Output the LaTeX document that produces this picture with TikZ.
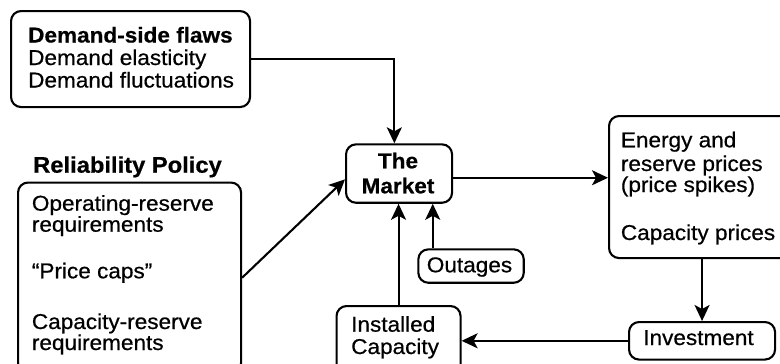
\documentclass[tikz,border=0pt]{standalone}
\usepackage{fontspec}
\setmainfont{Liberation Sans}[FakeStretch=1.05, FakeBold=0.6]
\usetikzlibrary{arrows.meta}
\tikzset{
  box/.style={draw, rounded corners=10pt, line width=2.1pt, inner sep=0pt, anchor=north west},
  txt/.style={inner sep=0pt, anchor=base west, font=\fontsize{21.5}{23}\selectfont},
  head/.style={txt, font=\fontsize{22.6}{24}\selectfont\bfseries},
  ctxt/.style={txt, anchor=base},
  arr/.style={line width=2.1pt, -{Stealth[length=16pt, width=15pt, inset=4pt]}}
}
\begin{document}
\begin{tikzpicture}[x=1pt, y=-1pt]
\useasboundingbox (0,0) rectangle (780,364);
\clip (0,0) rectangle (780,364);
\fill[white] (0,0) rectangle (780,364);

% boxes
\node[box, minimum width=239pt, minimum height=96pt] (dem) at (10,10) {};
\node[box, minimum width=223pt, minimum height=190.4pt] (rel) at (17,181.5) {};
\node[box, minimum width=106pt, minimum height=58.4pt] (mkt) at (345,143.3) {};
\node[box, minimum width=190pt, minimum height=142pt] (eng) at (608,115) {};
\node[box, minimum width=146pt, minimum height=37.5pt] (inv) at (628,321) {};
\node[box, minimum width=124pt, minimum height=80pt] (ins) at (335.5,305) {};
\node[box, minimum width=105.4pt, minimum height=33.4pt] (out) at (417.3,248.3) {};

% texts
\node[txt] (t1) at (28,42.5) {\bfseries Demand-side flaws};
\node[txt] (t2) at (28,65) {Demand elasticity};
\node[txt] (t3) at (28,87.5) {Demand fluctuations};

\node[head] (r0) at (33,172.7) {Reliability Policy};
\node[txt] (r1) at (31.7,210.7) {Operating-reserve};
\node[txt] (r2) at (31.7,231.7) {requirements};
\node[txt] (r3) at (31.7,278.3) {“Price caps”};
\node[txt] (r4) at (31.7,329) {Capacity-reserve};
\node[txt] (r5) at (31.7,350) {requirements};

\node[ctxt] (m1) at (398,168.3) {\bfseries The};
\node[ctxt] (m2) at (398,193.3) {\bfseries Market};

\node[txt] (e1) at (620.7,147.3) {Energy and};
\node[txt] (e2) at (620.7,171) {reserve prices};
\node[txt] (e3) at (620.7,192) {(price spikes)};
\node[txt] (e4) at (620.7,240) {Capacity prices};

\node[ctxt] (o1) at (469.5,272.3) {Outages};
\node[txt] (i1) at (351,331.7) {Installed};
\node[txt] (i2) at (351,354) {Capacity};
\node[ctxt] (v1) at (698.5,345) {Investment};

% connectors
\draw[arr] (dem.east) -| ([xshift=-4.7pt]mkt.north);
\draw[arr] (rel.east) -- ([yshift=-5.8pt]mkt.west);
\coordinate (mo) at ([yshift=-4.2pt]mkt.east);
\draw[arr] (mo) -- (mo -| eng.west);
\draw[arr] (eng.south -| inv.north) -- (inv.north);
\draw[arr] (inv.west) -- (inv.west -| ins.east);
\draw[arr] (ins.north) -- (ins.north |- mkt.south);
\coordinate (oo) at ([xshift=-38.3pt]out.north);
\draw[arr] (oo) -- (oo |- mkt.south);
\end{tikzpicture}
\end{document}
